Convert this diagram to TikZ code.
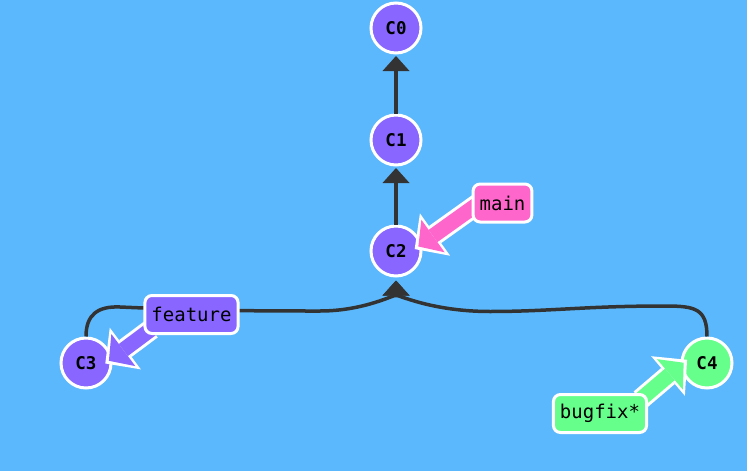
\documentclass[tikz,border=0pt]{standalone}
\usepackage{fontspec}
\setmonofont{DejaVu Sans Mono}
\usetikzlibrary{arrows.meta}

\definecolor{bgblue}{HTML}{5CB8FC}
\definecolor{cpurple}{HTML}{8866FF}
\definecolor{cgreen}{HTML}{66FF8C}
\definecolor{cpink}{HTML}{FF66CC}
\definecolor{edgegray}{HTML}{333333}

\pgfdeclarelayer{fg}
\pgfsetlayers{main,fg}

\begin{document}
\begin{tikzpicture}[x=1pt,y=-1pt,
    commit/.style={shape=circle,draw=white,line width=3pt,fill=cpurple,minimum size=50pt,inner sep=0pt,
      font=\ttfamily\bfseries\fontsize{17.5}{17.5}\selectfont},
    branch/.style={shape=rectangle,rounded corners=7pt,draw=white,line width=3pt,minimum height=38pt,
      inner xsep=6.5pt,font=\ttfamily\fontsize{19}{19}\selectfont},
    edge/.style={draw=edgegray,line width=3.5pt,-{Triangle[width=27pt,length=15pt,line width=0pt]}},
    ptr/.style={line width=15pt,-{Triangle[width=40pt,length=18pt,line width=0pt]},
      shorten <=-10pt,shorten >=-4pt,
      preaction={draw=white,line width=21pt,-{Triangle[width=52pt,length=25pt,line width=0pt]},shorten >=-8.5pt}}]

    \fill[bgblue] (0,0) rectangle (747,471);

    % commits
    \node[commit] (c0) at (396,28) {C0};
    \node[commit] (c1) at (396,140) {C1};
    \node[commit] (c2) at (396,251) {C2};
    \node[commit] (c3) at (86,363) {C3};
    \node[commit,fill=cgreen] (c4) at (707,363) {C4};

    % branches
    \begin{pgfonlayer}{fg}
    \node[branch,fill=cpink] (main) at (502.5,203) {main};
    \node[branch,fill=cpurple] (feature) at (191.5,314.5) {feature};
    \node[branch,fill=cgreen] (bugfix) at (600,413.5) {bugfix*};
    \end{pgfonlayer}

    % edges
    \draw[edge,shorten >=1.5pt] (c1) -- (c0);
    \draw[edge,shorten >=1.5pt] (c2) -- (c1);
    \draw[edge,shorten >=3pt] (c3.north) .. controls +(0,-22) and +(-22,-1) .. (120,307)
        .. controls +(90,4) and +(-50,0) .. (320,311) .. controls +(45,0) and +(0,16) .. (c2.south);
    \draw[edge,shorten >=3pt] (c4.north) .. controls +(0,-28) and +(30,0) .. (665,306)
        .. controls +(-80,0) and +(60,0) .. (490,311.5) .. controls +(-60,0) and +(0,16) .. (c2.south);

    % branch pointers
    \draw[ptr,cpink] (main.190) -- (c2.15);
    \draw[ptr,cpurple] (feature.south west) -- (c3.10);
    \draw[ptr,cgreen] (bugfix.north east) -- (c4.185);
\end{tikzpicture}
\end{document}
